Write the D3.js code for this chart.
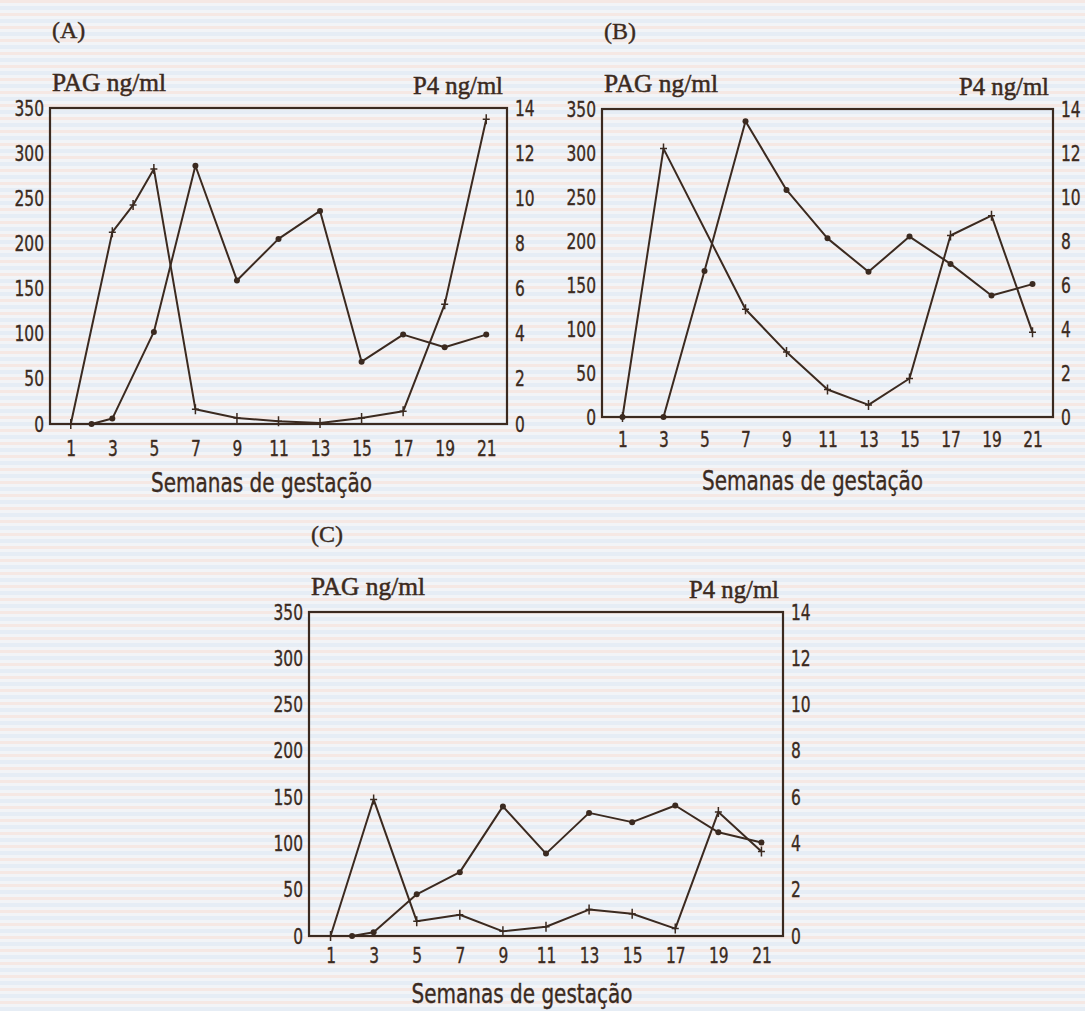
<!DOCTYPE html>
<html>
<head>
<meta charset="utf-8">
<script src="https://cdnjs.cloudflare.com/ajax/libs/d3/7.8.5/d3.min.js"></script>
<style>
  body { margin: 0; background: #f1f3f6; }
  svg { display: block; }
</style>
</head>
<body>
<script>
// Data (P4 in ng/ml on the right axis, PAG in ng/ml on the left axis)
var xTicks = [1, 3, 5, 7, 9, 11, 13, 15, 17, 19, 21];
var pagTicks = [0, 50, 100, 150, 200, 250, 300, 350];
var p4Ticks = [0, 2, 4, 6, 8, 10, 12, 14];

// Panel A
var weeksA_p4 = [1, 3, 4, 5, 7, 9, 11, 13, 15, 17, 19, 21];
var p4A = [0, 8.5, 9.7, 11.3, 0.65, 0.27, 0.12, 0.04, 0.27, 0.56, 5.3, 13.5];
var weeksA_pag = [2, 3, 5, 7, 9, 11, 13, 15, 17, 19, 21];
var pagA = [0, 6, 102, 286, 159, 205, 236, 69, 99, 85, 99];

// Panel B
var weeksB_p4 = [1, 3, 7, 9, 11, 13, 15, 17, 19, 21];
var p4B = [0, 12.2, 4.9, 2.95, 1.25, 0.55, 1.75, 8.25, 9.15, 3.85];
var weeksB_pag = [1, 3, 5, 7, 9, 11, 13, 15, 17, 19, 21];
var pagB = [0, 0, 166, 336, 258, 203, 165, 205, 174, 138, 151];

// Panel C
var weeksC_p4 = [1, 3, 5, 7, 9, 11, 13, 15, 17, 19, 21];
var p4C = [0, 5.9, 0.64, 0.92, 0.2, 0.4, 1.14, 0.96, 0.32, 5.36, 3.65];
var weeksC_pag = [2, 3, 5, 7, 9, 11, 13, 15, 17, 19, 21];
var pagC = [0, 4, 45, 69, 140, 89, 133, 123, 141, 112, 101];

var ink = "#3b2a20";
var numFont = "'Liberation Sans Narrow', 'DejaVu Sans Condensed', sans-serif";
var serifFont = "'Liberation Serif', 'DejaVu Serif', serif";

var width = 1085;
var height = 1011;

// Panel boxes and text offsets
var panels = [
  { label: "(A)", left: 50, right: 507, top: 108, bottom: 424, tickPad: 16, titleDy: 68, titleDx: -17,
    p4x: weeksA_p4, p4: p4A, pagx: weeksA_pag, pag: pagA },
  { label: "(B)", left: 602, right: 1053, top: 109, bottom: 417, tickPad: 14, titleDy: 73, titleDx: -15,
    p4x: weeksB_p4, p4: p4B, pagx: weeksB_pag, pag: pagB },
  { label: "(C)", left: 309, right: 783, top: 612, bottom: 936, tickPad: 11, titleDy: 67, titleDx: -24,
    p4x: weeksC_p4, p4: p4C, pagx: weeksC_pag, pag: pagC }
];

var svg = d3
  .select("body")
  .append("svg")
  .attr("width", width)
  .attr("height", height);

// scanned paper stripes
var pattern = svg.append("defs")
  .append("pattern")
  .attr("id", "paper")
  .attr("patternUnits", "userSpaceOnUse")
  .attr("width", 8)
  .attr("height", 13);
pattern.append("rect").attr("width", 8).attr("height", 13).attr("fill", "#f2f4f7");
pattern.append("rect").attr("y", 0).attr("width", 8).attr("height", 3).attr("fill", "#f5e8e4");
pattern.append("rect").attr("y", 6).attr("width", 8).attr("height", 4).attr("fill", "#e6edf5");

svg.append("rect")
  .attr("width", width)
  .attr("height", height)
  .attr("fill", "url(#paper)");

// squeeze a text horizontally to look like a narrow face
function squeeze(sel, k) {
  sel.each(function () {
    var len = this.getComputedTextLength();
    d3.select(this)
      .attr("textLength", len * k)
      .attr("lengthAdjust", "spacingAndGlyphs");
  });
}

panels.forEach(function (p) {
  var x = d3.scaleLinear().domain([0, 22]).range([p.left, p.right]);
  var yPag = d3.scaleLinear().domain([0, 350]).range([p.bottom, p.top]);
  var yP4 = d3.scaleLinear().domain([0, 14]).range([p.bottom, p.top]);

  var g = svg.append("g");

  // axes (labels only, no tick marks)
  var left = g.append("g")
    .attr("transform", "translate(" + p.left + ",0)")
    .call(d3.axisLeft(yPag).tickValues(pagTicks).tickSize(0).tickPadding(6));
  var right = g.append("g")
    .attr("transform", "translate(" + p.right + ",0)")
    .call(d3.axisRight(yP4).tickValues(p4Ticks).tickSize(0).tickPadding(8));
  var bottom = g.append("g")
    .attr("transform", "translate(0," + p.bottom + ")")
    .call(d3.axisBottom(x).tickValues(xTicks).tickSize(0).tickPadding(p.tickPad));

  [left, right, bottom].forEach(function (a) {
    a.select(".domain").remove();
    var t = a.selectAll("text")
      .attr("fill", ink)
      .attr("stroke", ink)
      .attr("stroke-width", 0.35)
      .style("font-family", numFont)
      .style("font-size", "22px");
    squeeze(t, 0.78);
  });

  // frame
  g.append("rect")
    .attr("x", p.left)
    .attr("y", p.top)
    .attr("width", p.right - p.left)
    .attr("height", p.bottom - p.top)
    .attr("fill", "none")
    .attr("stroke", ink)
    .attr("stroke-width", 2.2);

  // P4 line with cross markers
  var p4Data = p.p4x.map(function (w, i) { return [w, p.p4[i]]; });
  g.append("path")
    .datum(p4Data)
    .attr("fill", "none")
    .attr("stroke", ink)
    .attr("stroke-width", 2)
    .attr("stroke-linejoin", "round")
    .attr("d", d3.line()
      .x(function (d) { return x(d[0]); })
      .y(function (d) { return yP4(d[1]); }));

  g.selectAll(".cross")
    .data(p4Data)
    .enter()
    .append("path")
    .attr("fill", "none")
    .attr("stroke", ink)
    .attr("stroke-width", 1.5)
    .attr("d", function (d) {
      var cx = x(d[0]), cy = yP4(d[1]);
      return "M" + (cx - 3.5) + "," + cy + "H" + (cx + 3.5) +
        "M" + cx + "," + (cy - 5) + "V" + (cy + 5);
    });

  // PAG line with dot markers
  var pagData = p.pagx.map(function (w, i) { return [w, p.pag[i]]; });
  g.append("path")
    .datum(pagData)
    .attr("fill", "none")
    .attr("stroke", ink)
    .attr("stroke-width", 2)
    .attr("stroke-linejoin", "round")
    .attr("d", d3.line()
      .x(function (d) { return x(d[0]); })
      .y(function (d) { return yPag(d[1]); }));

  g.selectAll(".dot")
    .data(pagData)
    .enter()
    .append("circle")
    .attr("cx", function (d) { return x(d[0]); })
    .attr("cy", function (d) { return yPag(d[1]); })
    .attr("r", 3)
    .attr("fill", ink);

  // panel letter and axis titles
  g.append("text")
    .attr("x", p.left + 2)
    .attr("y", p.top - 70)
    .attr("fill", ink)
    .attr("stroke", ink)
    .attr("stroke-width", 0.4)
    .style("font-family", serifFont)
    .style("font-size", "24px")
    .text(p.label);

  g.append("text")
    .attr("x", p.left + 2)
    .attr("y", p.top - 17)
    .attr("fill", ink)
    .attr("stroke", ink)
    .attr("stroke-width", 0.5)
    .attr("textLength", 114)
    .attr("lengthAdjust", "spacingAndGlyphs")
    .style("font-family", serifFont)
    .style("font-size", "25px")
    .text("PAG ng/ml");

  g.append("text")
    .attr("x", p.right - 4)
    .attr("y", p.top - 14)
    .attr("text-anchor", "end")
    .attr("fill", ink)
    .attr("stroke", ink)
    .attr("stroke-width", 0.5)
    .attr("textLength", 90)
    .attr("lengthAdjust", "spacingAndGlyphs")
    .style("font-family", serifFont)
    .style("font-size", "25px")
    .text("P4 ng/ml");

  g.append("text")
    .attr("x", (x(1) + x(21)) / 2 + p.titleDx)
    .attr("y", p.bottom + p.titleDy)
    .attr("text-anchor", "middle")
    .attr("fill", ink)
    .attr("stroke", ink)
    .attr("stroke-width", 0.35)
    .attr("textLength", 221)
    .attr("lengthAdjust", "spacingAndGlyphs")
    .style("font-family", numFont)
    .style("font-size", "27px")
    .text("Semanas de gestação");
});
</script>
</body>
</html>
